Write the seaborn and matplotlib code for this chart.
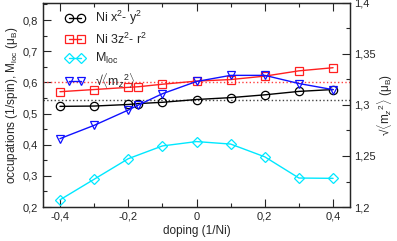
import numpy as np
import pandas as pd
import matplotlib
matplotlib.use("Agg")
import matplotlib.pyplot as plt
from matplotlib.ticker import FuncFormatter, MultipleLocator
import seaborn as sns

sns.set_style("ticks")
plt.rcParams['font.family'] = ['Liberation Sans', 'DejaVu Sans']
plt.rcParams['mathtext.fontset'] = 'custom'
plt.rcParams['mathtext.rm'] = 'Liberation Sans'
plt.rcParams['mathtext.it'] = 'Liberation Sans:italic'
plt.rcParams['xtick.direction'] = 'in'
plt.rcParams['ytick.direction'] = 'in'

# doping values (1/Ni)
doping = [-0.4, -0.3, -0.2, -0.17, -0.1, 0.0, 0.1, 0.2, 0.3, 0.4]
occ_x2y2 = [0.523, 0.524, 0.529, 0.532, 0.536, 0.545, 0.551, 0.560, 0.571, 0.577]
occ_3z2r2 = [0.570, 0.577, 0.584, 0.586, 0.594, 0.604, 0.609, 0.620, 0.637, 0.647]
sqrt_mz2 = [1.267, 1.280, 1.295, 1.300, 1.311, 1.323, 1.329, 1.329, 1.321, 1.315]

doping_mloc = [-0.4, -0.3, -0.2, -0.1, 0.0, 0.1, 0.2, 0.3, 0.4]
m_loc = [0.223, 0.289, 0.355, 0.396, 0.410, 0.402, 0.361, 0.293, 0.292]

ref_3z2r2 = 0.600
ref_x2y2 = 0.545

occ = pd.DataFrame({'doping': doping, 'x2y2': occ_x2y2, '3z2r2': occ_3z2r2, 'mz': sqrt_mz2})
mloc = pd.DataFrame({'doping': doping_mloc, 'mloc': m_loc})

fig = plt.figure(figsize=(3.97, 2.41), dpi=100)
ax = fig.add_axes([0.108, 0.141, 0.774, 0.847])
ax2 = ax.twinx()

mk = dict(markerfacecolor='none', markersize=6, markeredgewidth=0.9, linewidth=1)

ax.axhline(ref_3z2r2, color='#ff4040', linestyle=':', linewidth=1)
ax.axhline(ref_x2y2, color='#444444', linestyle=':', linewidth=1)

sns.lineplot(data=occ, x='doping', y='x2y2', marker='o', color='black', markeredgecolor='black',
             label=r'Ni x$^2$- y$^2$', ax=ax, legend=False, **mk)
sns.lineplot(data=occ, x='doping', y='3z2r2', marker='s', color='#ff2020', markeredgecolor='#ff2020',
             label=r'Ni 3z$^2$- r$^2$', ax=ax, legend=False, **mk)
sns.lineplot(data=mloc, x='doping', y='mloc', marker='D', color='#00e8ff', markeredgecolor='#00e8ff',
             label=r'M$_{\mathrm{loc}}$', ax=ax, legend=False, markerfacecolor='none', markersize=5,
             markeredgewidth=0.9, linewidth=1)
mz_label = r'√$\langle$m$_z$$^2$$\rangle$'
sns.lineplot(data=occ, x='doping', y='mz', marker='v', color='#1010ff', markeredgecolor='#1010ff',
             label=mz_label, ax=ax2, legend=False, **mk)

ax.set_xlim(-0.45, 0.45)
ax.set_ylim(0.2, 0.855)
ax2.set_ylim(1.2, 1.4)

comma = FuncFormatter(lambda v, p: ('%g' % round(v, 3)).replace('.', ','))
ax.xaxis.set_major_locator(MultipleLocator(0.2))
ax.xaxis.set_minor_locator(MultipleLocator(0.1))
ax.yaxis.set_major_locator(MultipleLocator(0.1))
ax.yaxis.set_minor_locator(MultipleLocator(0.05))
ax2.yaxis.set_major_locator(MultipleLocator(0.05))
ax2.yaxis.set_minor_locator(MultipleLocator(0.025))
ax.xaxis.set_major_formatter(comma)
ax.yaxis.set_major_formatter(comma)
ax2.yaxis.set_major_formatter(comma)

ax.tick_params(axis='x', which='both', top=True, labelsize=8)
ax.tick_params(axis='y', which='both', right=False, labelsize=8)
ax2.tick_params(axis='y', which='both', labelsize=8, pad=3)
ax.tick_params(which='major', length=6, width=0.8)
ax.tick_params(which='minor', length=3, width=0.8)
ax2.tick_params(which='major', length=6, width=0.8)
ax2.tick_params(which='minor', length=3, width=0.8)
for a in (ax, ax2):
    for s in a.spines.values():
        s.set_linewidth(0.9)
        s.set_visible(True)

ax.set_xlabel('doping (1/Ni)', fontsize=8.5, labelpad=2)
ax.set_ylabel('occupations (1/spin), M$_{\\mathrm{loc}}$ (μ$_{\\mathrm{B}}$)', fontsize=8.5, labelpad=2)
ax2.set_ylabel(mz_label + ' (μ$_{\\mathrm{B}}$)', fontsize=8.5, labelpad=0)

h1, l1 = ax.get_legend_handles_labels()
h2, l2 = ax2.get_legend_handles_labels()
ax2.legend(h1 + h2, l1 + l2, loc='upper left', bbox_to_anchor=(0.055, 0.995), borderaxespad=0,
           frameon=False, fontsize=9, numpoints=2, handlelength=1.6, labelspacing=0.36,
           handletextpad=0.8)

fig.savefig('out.png', dpi=100)
